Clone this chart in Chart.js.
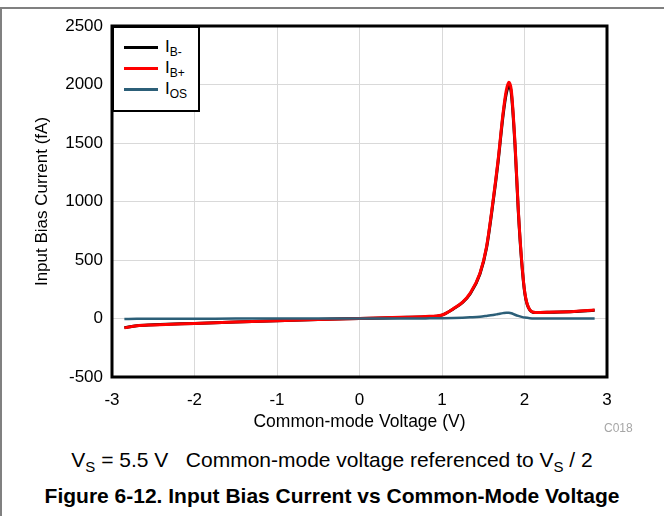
<!DOCTYPE html>
<html>
<head>
<meta charset="utf-8">
<script src="https://cdn.jsdelivr.net/npm/chart.js@4.4.1/dist/chart.umd.min.js"></script>
<style>
  html, body { margin: 0; padding: 0; background: #fff; }
  #wrap { position: relative; width: 664px; height: 516px; overflow: hidden;
          font-family: "Liberation Sans", Arial, sans-serif; color: #000; }
  #frame { position: absolute; left: 0; top: 7px; width: 664px; height: 520px;
           border-top: 2px solid #808080; border-left: 2px solid #808080; box-sizing: border-box; }
  #chart { position: absolute; left: 0; top: 0; }
  #legend { position: absolute; left: 112px; top: 26px; width: 88px; height: 86px;
            border: 2.5px solid #000; box-sizing: border-box; background: #fff; }
  #legend .item { position: absolute; left: 8px; height: 20px; width: 76px; }
  #legend .swatch { position: absolute; left: 2px; top: 9px; width: 34px; height: 3px; }
  #legend .lbl { position: absolute; left: 43px; top: 0; font-size: 17px; line-height: 20px; }
  #legend sub { font-size: 12px; vertical-align: -4px; line-height: 0; }
  #code { position: absolute; left: 604px; top: 421px; font-size: 12px; color: #a6a6a6; }
  #cond { position: absolute; left: 0; width: 664px; top: 448px; text-align: center;
          font-size: 21px; line-height: 24px; }
  #cond sub { font-size: 15px; vertical-align: -5px; line-height: 0; }
  #fig { position: absolute; left: 0; width: 664px; top: 484px; text-align: center;
         font-size: 21px; line-height: 24px; font-weight: bold; }
</style>
</head>
<body>
<div id="wrap">
  <div id="frame"></div>
  <canvas id="chart" width="664" height="440"></canvas>
  <div id="legend"></div>
  <div id="code">C018</div>
  <div id="cond">V<sub>S</sub> = 5.5 V&nbsp;&nbsp; Common-mode voltage referenced to V<sub>S</sub> / 2</div>
  <div id="fig">Figure 6-12. Input Bias Current vs Common-Mode Voltage</div>
</div>
<script>
// Datos (V, fA)
const voltage = [-2.85, -2.7, -2.5, -2.0, -1.5, -1.0, -0.5, 0.0, 0.5, 0.8, 1.0, 1.14, 1.25, 1.34, 1.46, 1.54, 1.62, 1.68, 1.74, 1.78, 1.81, 1.84, 1.885, 1.925, 1.965, 2.005, 2.065, 2.13, 2.3, 2.6, 2.85];
const ibMinus = [-78, -61, -54, -42, -30, -19, -9, 0, 9, 16, 29, 83, 137, 210, 380, 605, 1000, 1340, 1735, 1925, 1985, 1925, 1480, 915, 490, 210, 72, 51, 53, 59, 71];
const ibPlus  = [-80, -62, -55, -42, -30, -19, -9, 0, 10, 17, 30, 85, 140, 215, 386, 614, 1013, 1355, 1754, 1953, 2020, 1953, 1497, 927, 500, 215, 73, 52, 54, 60, 72];
const ios     = [-5, -3, -2, -2, -1, -1, 0, 0, 0, 1, 2, 4, 7, 10, 15, 22, 30, 38, 46, 50, 49, 45, 32, 22, 14, 8, 3, 1, 0, 0, 0];

const seriesName = ['I', 'I', 'I'];
const seriesSub = ['B-', 'B+', 'OS'];
const seriesColor = ['#000000', '#ff0000', '#2c5f78'];
const xTicks = [-3, -2, -1, 0, 1, 2, 3];
const yTicks = [-500, 0, 500, 1000, 1500, 2000, 2500];

const seriesValues = [ibMinus, ibPlus, ios];

function puntos(vals) {
    return voltage.map((v, i) => ({ x: v, y: vals[i] }));
}

// Leyenda en HTML para poder usar subíndices
const legend = document.getElementById('legend');
seriesName.forEach((n, i) => {
    const item = document.createElement('div');
    item.className = 'item';
    item.style.top = (9 + i * 21) + 'px';
    item.innerHTML = '<div class="swatch" style="background:' + seriesColor[i] + '"></div>' +
        '<div class="lbl">' + n + '<sub>' + seriesSub[i] + '</sub></div>';
    legend.appendChild(item);
});

// Marco negro alrededor del área de la gráfica
const marco = {
    id: 'marco',
    afterDraw(chart) {
        const a = chart.chartArea;
        const ctx = chart.ctx;
        ctx.save();
        ctx.strokeStyle = '#000';
        ctx.lineWidth = 3;
        ctx.strokeRect(a.left, a.top, a.right - a.left, a.bottom - a.top);
        ctx.restore();
    }
};

const fuente = { family: '"Liberation Sans", Arial, sans-serif' };

new Chart(document.getElementById('chart').getContext('2d'), {
    type: 'line',
    data: {
        datasets: seriesValues.map((vals, i) => ({
            label: seriesName[i] + seriesSub[i],
            data: puntos(vals),
            borderColor: seriesColor[i],
            borderWidth: i === 2 ? 2.5 : 3,
            pointRadius: 0,
            cubicInterpolationMode: 'monotone',
            fill: false,
            order: 3 - i
        }))
    },
    options: {
        responsive: false,
        animation: false,
        layout: { padding: { top: 26, right: 57, left: 0, bottom: 0 } },
        plugins: {
            legend: { display: false },
            tooltip: { enabled: false }
        },
        scales: {
            x: {
                type: 'linear',
                min: -3,
                max: 3,
                afterBuildTicks: s => { s.ticks = xTicks.map(v => ({ value: v })); },
                afterFit: s => { s.height = 63; },
                grid: { color: '#d9d9d9', drawTicks: false },
                border: { display: false },
                ticks: {
                    padding: 13, color: '#000', font: { ...fuente, size: 17 },
                    callback: v => String(v)
                },
                title: {
                    display: true,
                    text: 'Common-mode Voltage (V)',
                    color: '#000',
                    font: { ...fuente, size: 17.5 },
                    padding: { top: 0, bottom: 7 }
                }
            },
            y: {
                min: -500,
                max: 2500,
                afterBuildTicks: s => { s.ticks = yTicks.map(v => ({ value: v })); },
                afterFit: s => { s.width = 112; },
                grid: { color: '#d9d9d9', drawTicks: false },
                border: { display: false },
                ticks: {
                    padding: 9, color: '#000', font: { ...fuente, size: 17 },
                    callback: v => String(v)
                },
                title: {
                    display: true,
                    text: 'Input Bias Current (fA)',
                    color: '#000',
                    font: { ...fuente, size: 17 },
                    padding: { top: 32, bottom: 0 }
                }
            }
        }
    },
    plugins: [marco]
});
</script>
</body>
</html>
